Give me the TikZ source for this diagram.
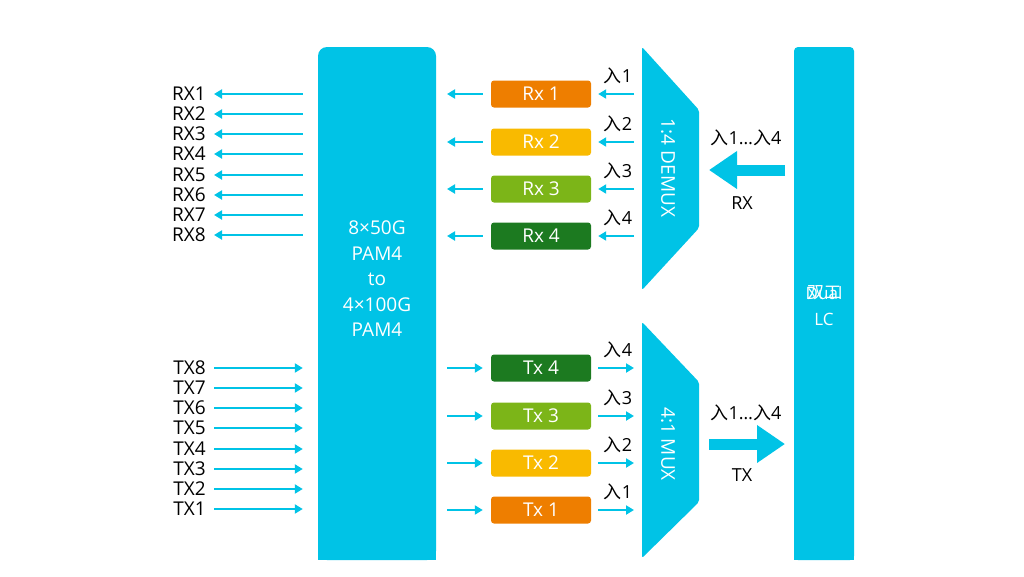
\documentclass[tikz,border=0pt]{standalone}
\usepackage{fontspec}
\setmainfont{Open Sans}
\newfontfamily\cjk{Noto Sans CJK SC}
\usepackage{xcolor}
\usepackage{tikz}
\usetikzlibrary{arrows.meta,positioning}
\definecolor{cyanb}{HTML}{00C3E6}
\definecolor{chorange}{HTML}{EE7E00}
\definecolor{chyellow}{HTML}{F9BA00}
\definecolor{chlight}{HTML}{7CB518}
\definecolor{chdark}{HTML}{1C7A20}
\tikzset{bar/.style={rectangle,fill=cyanb,inner sep=0pt}}
\tikzset{chan/.style={rectangle,rounded corners=3pt,minimum width=100pt,minimum height=27pt,inner sep=0pt,text=white,font=\fontsize{19}{21}\selectfont}}
\tikzset{lbl/.style={inner sep=0pt,font=\fontsize{19}{21}\selectfont}}
\tikzset{lam/.style={inner sep=0pt,font=\fontsize{18}{20}\selectfont}}
\tikzset{sig/.style={draw=cyanb,line width=2.2pt,-{Triangle[length=8pt,width=9pt]}}}
\tikzset{fat/.style={draw=cyanb,line width=11pt,-{Triangle[length=28pt,width=36pt]}}}

\begin{document}
\begin{tikzpicture}[x=1pt,y=-1pt]
    \useasboundingbox (0,0) rectangle (1024,576);

    % converter and duplex LC bars
    \node[bar,rounded corners=9pt,minimum width=118pt,minimum height=513pt] (conv)at (377,303.5) {};
    \fill[cyanb] (318,530) rectangle (436,560);
    \node[text=white,align=center,inner sep=0pt,font=\fontsize{19}{25.5}\selectfont] (convtxt)at (377,279) {8×50G\\PAM4\\to\\4×100G\\PAM4};
    \node[bar,rounded corners=4pt,minimum width=60pt,minimum height=513pt] (lc)at (824,303.5) {};
    \fill[cyanb] (794,530) rectangle (854,560);
    \node[text=white,inner sep=0pt,font=\cjk\fontsize{17}{19}\selectfont] (lccn)at (824,293) {双工};
    \node[text=white,align=center,inner sep=0pt,font=\fontsize{17}{26}\selectfont] (lctxt)at (824,306) {Dual\\LC};

    % demux and mux
    \fill[cyanb,rounded corners=2pt] (642,47) -- (699,110) -- (699,228) -- (642,290) -- cycle;
    \fill[cyanb,rounded corners=2pt] (642,322) -- (699,382) -- (699,502) -- (642,558) -- cycle;
    \node[rotate=-90,text=white,inner sep=0pt,font=\fontsize{19}{21}\selectfont] (demux)at (668,168) {1:4 DEMUX};
    \node[rotate=-90,text=white,inner sep=0pt,font=\fontsize{19}{21}\selectfont] (mux)at (668,444) {4:1 MUX};

    % channels
    \node[chan,fill=chorange] (rx1)at (541,94) {Rx 1};
    \node[chan,fill=chyellow] (rx2)at (541,142) {Rx 2};
    \node[chan,fill=chlight] (rx3)at (541,189) {Rx 3};
    \node[chan,fill=chdark] (rx4)at (541,236) {Rx 4};
    \node[chan,fill=chdark] (tx4)at (541,368) {Tx 4};
    \node[chan,fill=chlight] (tx3)at (541,416) {Tx 3};
    \node[chan,fill=chyellow] (tx2)at (541,463) {Tx 2};
    \node[chan,fill=chorange] (tx1)at (541,510) {Tx 1};

    % wavelength labels
    \node[lam] (lr1)at (618,76) {{\cjk 入}1};
    \node[lam] (lr2)at (618,124) {{\cjk 入}2};
    \node[lam] (lr3)at (618,171) {{\cjk 入}3};
    \node[lam] (lr4)at (618,218) {{\cjk 入}4};
    \node[lam] (lt4)at (618,350) {{\cjk 入}4};
    \node[lam] (lt3)at (618,398) {{\cjk 入}3};
    \node[lam] (lt2)at (618,445) {{\cjk 入}2};
    \node[lam] (lt1)at (618,492) {{\cjk 入}1};

    \coordinate (dm1)at (634,94);
    \coordinate (dm2)at (634,142);
    \coordinate (dm3)at (634,189);
    \coordinate (dm4)at (634,236);
    \coordinate (mx4)at (634,368);
    \coordinate (mx3)at (634,416);
    \coordinate (mx2)at (634,463);
    \coordinate (mx1)at (634,510);
    \coordinate (cr1)at (447,94);
    \coordinate (cr2)at (447,142);
    \coordinate (cr3)at (447,189);
    \coordinate (cr4)at (447,236);
    \coordinate (ct4)at (447,368);
    \coordinate (ct3)at (447,416);
    \coordinate (ct2)at (447,463);
    \coordinate (ct1)at (447,510);

    \draw [sig,shorten >=7pt] (dm1) to (rx1);
    \draw [sig,shorten >=7pt] (dm2) to (rx2);
    \draw [sig,shorten >=7pt] (dm3) to (rx3);
    \draw [sig,shorten >=7pt] (dm4) to (rx4);
    \draw [sig,shorten <=8pt] (rx1) to (cr1);
    \draw [sig,shorten <=8pt] (rx2) to (cr2);
    \draw [sig,shorten <=8pt] (rx3) to (cr3);
    \draw [sig,shorten <=8pt] (rx4) to (cr4);
    \draw [sig,shorten >=8pt] (ct4) to (tx4);
    \draw [sig,shorten >=8pt] (ct3) to (tx3);
    \draw [sig,shorten >=8pt] (ct2) to (tx2);
    \draw [sig,shorten >=8pt] (ct1) to (tx1);
    \draw [sig,shorten <=7pt] (tx4) to (mx4);
    \draw [sig,shorten <=7pt] (tx3) to (mx3);
    \draw [sig,shorten <=7pt] (tx2) to (mx2);
    \draw [sig,shorten <=7pt] (tx1) to (mx1);

    % electrical lanes
    \node[lbl,anchor=east] (rxl1)at (206,94) {RX1};
    \node[lbl,anchor=east] (rxl2)at (206,114) {RX2};
    \node[lbl,anchor=east] (rxl3)at (206,134) {RX3};
    \node[lbl,anchor=east] (rxl4)at (206,154) {RX4};
    \node[lbl,anchor=east] (rxl5)at (206,175) {RX5};
    \node[lbl,anchor=east] (rxl6)at (206,195) {RX6};
    \node[lbl,anchor=east] (rxl7)at (206,215) {RX7};
    \node[lbl,anchor=east] (rxl8)at (206,235) {RX8};
    \node[lbl,anchor=east] (txl8)at (206,368) {TX8};
    \node[lbl,anchor=east] (txl7)at (206,388) {TX7};
    \node[lbl,anchor=east] (txl6)at (206,408) {TX6};
    \node[lbl,anchor=east] (txl5)at (206,428) {TX5};
    \node[lbl,anchor=east] (txl4)at (206,449) {TX4};
    \node[lbl,anchor=east] (txl3)at (206,469) {TX3};
    \node[lbl,anchor=east] (txl2)at (206,489) {TX2};
    \node[lbl,anchor=east] (txl1)at (206,509) {TX1};

    \draw [sig,shorten >=8pt] (conv.west|-rxl1) ++(-15,0) coordinate (er1) -- (rxl1.east);
    \draw [sig,shorten >=8pt] (conv.west|-rxl2) ++(-15,0) coordinate (er2) -- (rxl2.east);
    \draw [sig,shorten >=8pt] (conv.west|-rxl3) ++(-15,0) coordinate (er3) -- (rxl3.east);
    \draw [sig,shorten >=8pt] (conv.west|-rxl4) ++(-15,0) coordinate (er4) -- (rxl4.east);
    \draw [sig,shorten >=8pt] (conv.west|-rxl5) ++(-15,0) coordinate (er5) -- (rxl5.east);
    \draw [sig,shorten >=8pt] (conv.west|-rxl6) ++(-15,0) coordinate (er6) -- (rxl6.east);
    \draw [sig,shorten >=8pt] (conv.west|-rxl7) ++(-15,0) coordinate (er7) -- (rxl7.east);
    \draw [sig,shorten >=8pt] (conv.west|-rxl8) ++(-15,0) coordinate (er8) -- (rxl8.east);
    \draw [sig,shorten <=8pt] (txl8.east) -- ([xshift=-15pt]conv.west|-txl8);
    \draw [sig,shorten <=8pt] (txl7.east) -- ([xshift=-15pt]conv.west|-txl7);
    \draw [sig,shorten <=8pt] (txl6.east) -- ([xshift=-15pt]conv.west|-txl6);
    \draw [sig,shorten <=8pt] (txl5.east) -- ([xshift=-15pt]conv.west|-txl5);
    \draw [sig,shorten <=8pt] (txl4.east) -- ([xshift=-15pt]conv.west|-txl4);
    \draw [sig,shorten <=8pt] (txl3.east) -- ([xshift=-15pt]conv.west|-txl3);
    \draw [sig,shorten <=8pt] (txl2.east) -- ([xshift=-15pt]conv.west|-txl2);
    \draw [sig,shorten <=8pt] (txl1.east) -- ([xshift=-15pt]conv.west|-txl1);

    % optical side
    \coordinate (rxin)at (785,170);
    \coordinate (rxout)at (709,170);
    \coordinate (txin)at (709,444);
    \coordinate (txout)at (785,444);
    \draw [fat] (rxin) -- (rxout);
    \draw [fat] (txin) -- (txout);
    \node[lam] (lrall)at (746,138) {{\cjk 入}1…{\cjk 入}4};
    \node[lam] (rxname)at (742,203) {RX};
    \node[lam] (ltall)at (746,413) {{\cjk 入}1…{\cjk 入}4};
    \node[lam] (txname)at (742,475) {TX};
\end{tikzpicture}
\end{document}
